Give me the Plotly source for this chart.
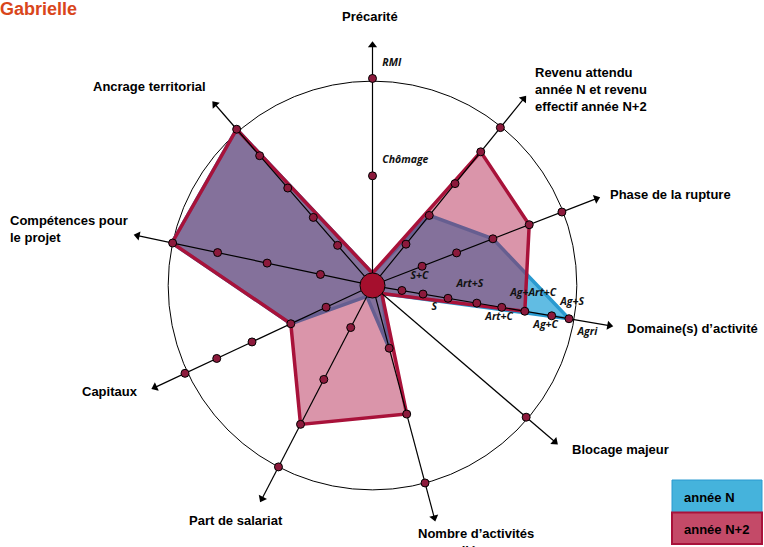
import plotly.graph_objects as go

# axes of the radar (angle in degrees, counterclockwise from east)
axis_names = ['Précarité', 'Revenu attendu', 'Phase de la rupture', "Domaine(s) d'activité",
              'Blocage majeur', "Nombre d'activités", 'Part de salariat', 'Capitaux',
              'Compétences pour le projet', 'Ancrage territorial']
axis_angles = [90, 51, 21.2, -9.6, -40.6, -75.1, -117.4, -154.9, 168, 131]

# scores (0 = centre, ~5 = outer circle)
annee_n = [0, 2.0, 3.0, 4.8, 0, 1.35, 0, 2.0, 4.95, 5.0]
annee_n2 = [0, 4.1, 4.0, 3.65, 0, 3.1, 3.7, 2.0, 4.95, 5.0]

# graduation dots along each axis
axis_ticks = [
    [2.5, 5.0],                                      # Précarité
    [1.05, 2.0, 3.05, 4.1, 4.9],                     # Revenu
    [1.05, 2.0, 3.0, 4.0, 4.9],                      # Phase
    [0.45, 1.0, 1.65, 2.4, 3.05, 3.65, 4.35, 4.8],   # Domaine
    [4.88],                                          # Blocage
    [1.35, 3.1, 4.93],                               # Nombre
    [0.9, 2.4, 3.7, 4.93],                           # Part de salariat
    [1.0, 2.0, 3.1, 4.1, 5.0],                       # Capitaux
    [1.05, 2.45, 3.75, 4.93],                        # Compétences
    [1.05, 2.0, 3.0, 4.1, 5.0],                      # Ancrage
]

precarite_labels = ['Chômage', 'RMI']
domaine_labels = ['S+C', 'S', 'Art+S', 'Art+C', 'Ag+Art+C', 'Ag+C', 'Ag+S', 'Agri']

W, H = 764, 547
CX, CY, R = 372.5, 285.5, 246


def px(x):
    return x / W


def py(y):
    return 1 - y / H


fig = go.Figure()

# polygons
fig.add_trace(go.Scatterpolar(
    r=annee_n + annee_n[:1], theta=axis_angles + axis_angles[:1],
    mode='lines', fill='toself', fillcolor='rgba(30,160,215,0.7)',
    line=dict(color='#2a9ad0', width=3.5), name='année N'))
fig.add_trace(go.Scatterpolar(
    r=annee_n2 + annee_n2[:1], theta=axis_angles + axis_angles[:1],
    mode='lines', fill='toself', fillcolor='rgba(175,25,70,0.46)',
    line=dict(color='#a8123a', width=3.5), name='année N+2'))

# spokes
spoke_r, spoke_t = [], []
for a in axis_angles:
    spoke_r += [0, 5.85, None]
    spoke_t += [a, a, None]
fig.add_trace(go.Scatterpolar(r=spoke_r, theta=spoke_t, mode='lines',
                              line=dict(color='black', width=1.2), hoverinfo='skip'))
fig.add_trace(go.Scatterpolar(
    r=[5.85] * len(axis_angles), theta=axis_angles, mode='markers',
    marker=dict(symbol='triangle-up', size=8, color='black',
                angle=[90 - a for a in axis_angles]), hoverinfo='skip'))

# graduation dots
dot_r, dot_t = [], []
for a, ticks in zip(axis_angles, axis_ticks):
    dot_r += ticks
    dot_t += [a] * len(ticks)
fig.add_trace(go.Scatterpolar(
    r=dot_r, theta=dot_t, mode='markers',
    marker=dict(size=8, color='#8c1a3c', line=dict(color='black', width=1))))

# small italic labels (invisible markers push the text away from the dots)
lab_font = dict(family='Open Sans', size=10.5, color='#111', style='italic', weight=700)
fig.add_trace(go.Scatterpolar(
    r=axis_ticks[0], theta=[axis_angles[0]] * 2, mode='markers+text', text=precarite_labels,
    marker=dict(size=14, opacity=0), textposition='top right', textfont=lab_font,
    hoverinfo='skip'))
fig.add_trace(go.Scatterpolar(
    r=axis_ticks[3], theta=[axis_angles[3]] * len(axis_ticks[3]), mode='markers+text',
    text=domaine_labels, marker=dict(size=12, opacity=0),
    textposition=['top right' if i % 2 == 0 else 'bottom right' for i in range(len(domaine_labels))],
    textfont=lab_font, hoverinfo='skip'))

fig.update_layout(
    width=W, height=H, margin=dict(l=0, r=0, t=0, b=0),
    paper_bgcolor='white', showlegend=False,
    polar=dict(
        domain=dict(x=[px(CX - R), px(CX + R)], y=[py(CY + R), py(CY - R)]),
        hole=0.05, bgcolor='white',
        radialaxis=dict(range=[0, 6], tickvals=[4.93], showgrid=True, gridcolor='black',
                        gridwidth=1, showticklabels=False, ticks='', showline=False),
        angularaxis=dict(showgrid=False, showline=False, showticklabels=False, ticks=''),
    ),
)

# centre disc
fig.add_shape(type='circle', xref='paper', yref='paper', xsizemode='pixel', ysizemode='pixel',
              xanchor=px(CX), yanchor=py(CY), x0=-12.5, x1=12.5, y0=-12.5, y1=12.5,
              fillcolor='#a50f2d', line=dict(color='black', width=1), layer='above')

bold = dict(family='Liberation Sans, Arial', size=13, color='black')
axis_text = [
    ('<b>Précarité</b>', 370, 17, 'center'),
    ('<b>Revenu attendu<br>année N et revenu<br>effectif année N+2</b>', 533, 90, 'left'),
    ('<b>Phase de la rupture</b>', 608, 194, 'left'),
    ('<b>Domaine(s) d’activité</b>', 625, 328, 'left'),
    ('<b>Blocage majeur</b>', 570, 449, 'left'),
    ('<b>Part de salariat</b>', 236, 520, 'center'),
    ('<b>Capitaux</b>', 80, 391, 'left'),
    ('<b>Compétences pour<br>le projet</b>', 8, 229, 'left'),
    ('<b>Ancrage territorial</b>', 149, 87, 'center'),
]
for txt, x, y, anc in axis_text:
    fig.add_annotation(text=txt, x=px(x), y=py(y), xref='paper', yref='paper',
                       xanchor=anc, yanchor='middle', align='left', showarrow=False, font=bold)
fig.add_annotation(text='<b>Nombre d’activités<br>liées</b>', x=px(476), y=py(524),
                   xref='paper', yref='paper', xanchor='center', yanchor='top',
                   align='center', showarrow=False, font=bold)

# title
fig.add_annotation(text='<b>Gabrielle</b>', x=0, y=py(9), xref='paper', yref='paper',
                   xanchor='left', yanchor='middle', xshift=-2, showarrow=False,
                   font=dict(family='Liberation Sans, Arial', size=18, color='#d9461b'))

# legend boxes
fig.add_shape(type='rect', xref='paper', yref='paper', x0=px(672), x1=px(762),
              y0=py(512.5), y1=py(480), fillcolor='#45b3dc', line=dict(color='#2a9ad0', width=1))
fig.add_shape(type='rect', xref='paper', yref='paper', x0=px(672), x1=px(762),
              y0=py(544), y1=py(512.5), fillcolor='#c44a68', line=dict(color='#a8123a', width=2))
for txt, y in [('<b>année N</b>', 497), ('<b>année N+2</b>', 529)]:
    fig.add_annotation(text=txt, x=px(682), y=py(y), xref='paper', yref='paper',
                       xanchor='left', yanchor='middle', showarrow=False,
                       font=dict(family='Liberation Sans, Arial', size=13, color='black'))

fig.write_html('out.html', config={'displayModeBar': False},
               post_script="document.body.style.margin='0';")
